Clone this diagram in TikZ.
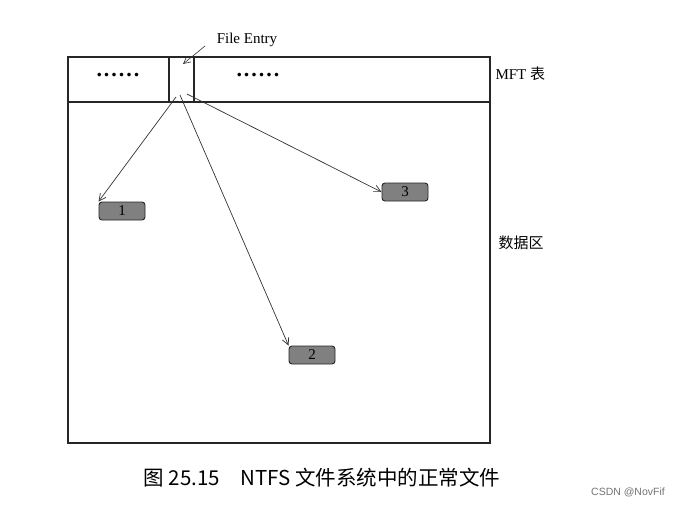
\documentclass[tikz,border=0pt]{standalone}
\usepackage{fontspec}
\setmainfont{Liberation Serif}
\newfontfamily\cjk{Noto Sans CJK SC}
\newfontfamily\wmfont{Liberation Sans}
\usepackage{tikz}
\usetikzlibrary{arrows.meta, positioning}
\newcommand{\sixdots}{.\kern2pt.\kern2pt.\kern2pt.\kern2pt.\kern2pt.}

\begin{document}
\begin{tikzpicture}[
      x=1pt, y=-1pt,
      frame/.style={draw=black!85, line width=1.1pt},
      block/.style={rectangle, draw=black!85, rounded corners=3pt,
                    fill=black!50, line width=0.9pt,
                    minimum width=46pt, minimum height=18pt,
                    inner sep=0pt, font=\fontsize{15}{16}\selectfont},
      arr/.style={-{Straight Barb[length=7pt,width=7pt]}, line width=0.7pt, draw=black!80},
      dots/.style={font=\fontsize{22}{22}\bfseries, inner sep=0pt},
      ]
    \useasboundingbox (0,0) rectangle (693,506);
    % storage area
    \draw[frame] (68,57) rectangle (490,443);
    \draw[frame] (68,102) -- (490,102);
    \draw[frame] (169,57) -- (169,102);
    \draw[frame] (194,57) -- (194,102);
    \node[dots] (d1) at (118,75) {\sixdots};
    \node[dots] (d2) at (258,75) {\sixdots};

    \node[font=\fontsize{15}{17}\selectfont] (entry) at (247,40) {File Entry};
    \coordinate (slot) at (183,64);
    \coordinate (lbl) at (205,46);
    \draw[arr, line width=0.6pt] (lbl) -- (slot);

    \node[anchor=west, font=\fontsize{15}{17}\selectfont] (mft) at (492,74) {MFT {\cjk 表}};
    \node[anchor=west, font=\cjk\fontsize{15}{17}\selectfont] (data) at (495,243) {数据区};

    % data blocks
    \node[block] (b1) at (122,211) {1};
    \node[block] (b2) at (312,355) {2};
    \node[block] (b3) at (405,192) {3};

    \coordinate (s1) at (176,97);
    \coordinate (s2) at (180,95);
    \coordinate (s3) at (187,94);
    \draw[arr] (s1) -- (b1.north west);
    \draw[arr] (s2) -- (b2.north west);
    \draw[arr] (s3) -- (b3.west);

    \node[font=\cjk\fontsize{20.5}{22}\selectfont] (cap) at (322,478) {图 25.15\quad NTFS 文件系统中的正常文件};
    \node[font=\wmfont\fontsize{10.5}{12}\selectfont, text=black!55] (wm) at (628,492) {CSDN @NovFif};
  \end{tikzpicture}
\end{document}
